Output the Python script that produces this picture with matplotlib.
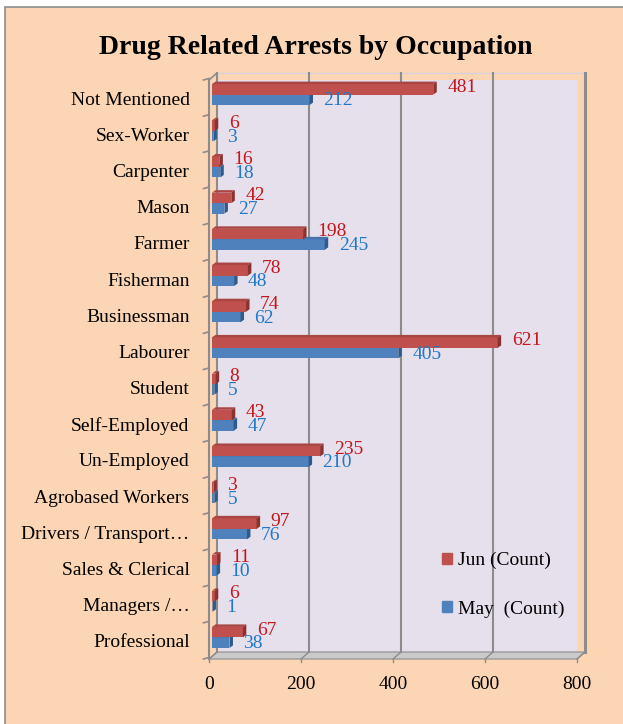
import matplotlib
matplotlib.use("Agg")
import matplotlib.pyplot as plt
import matplotlib.patches as mpatches
from matplotlib.patches import Polygon, Rectangle

plt.rcParams["font.family"] = ["Liberation Serif", "DejaVu Serif"]

# data, listed top to bottom as in the chart
categories = [
    "Not Mentioned", "Sex-Worker", "Carpenter", "Mason", "Farmer", "Fisherman",
    "Businessman", "Labourer", "Student", "Self-Employed", "Un-Employed",
    "Agrobased Workers", "Drivers / Transport\u2026", "Sales & Clerical",
    "Managers /\u2026", "Professional",
]
jun_counts = [481, 6, 16, 42, 198, 78, 74, 621, 8, 43, 235, 3, 97, 11, 6, 67]
may_counts = [212, 3, 18, 27, 245, 48, 62, 405, 5, 47, 210, 5, 76, 10, 1, 38]
x_ticks = [0, 200, 400, 600, 800]

# bottom-up order for plotting
cats = categories[::-1]
jun = jun_counts[::-1]
may = may_counts[::-1]
n = len(cats)

W, H = 623, 724
fig = plt.figure(figsize=(W / 100, H / 100), dpi=100)
fig.patch.set_facecolor("white")
fig.patches.append(Rectangle((5 / W, -0.02), 1.1, 1 - 7 / H + 0.02,
                             transform=fig.transFigure, facecolor="#FCD5B5",
                             edgecolor="#8C8C8C", lw=1.2, zorder=-10))

fig.text(316 / W, 1 - 48 / H, "Drug Related Arrests by Occupation",
         ha="center", va="center", fontsize=20, fontweight="bold")

# front plane of the 3d box
ax = fig.add_axes([209 / W, 65 / H, 368 / W, 579 / H])
ax.set_xlim(0, 800)
ax.set_ylim(-0.5, n - 0.5)
ax.patch.set_alpha(0)
for s in ax.spines.values():
    s.set_visible(False)

ux = 800 / 368      # data units per pixel
uy = n / 579
dx, dy = 8 * ux, 7 * uy          # wall depth
mx, my = 3 * ux, 3.5 * uy        # bars sit mid depth
ex, ey = 3.5 * ux, 2.5 * uy      # bar thickness
bh = 10.5 * uy

y0, y1 = -0.5, n - 0.5
grid_c = "#8C8C8C"

# back wall, floor, side wall
ax.add_patch(Polygon([(dx, y0 + dy), (800 + dx, y0 + dy), (800 + dx, y1 + dy), (dx, y1 + dy)],
                     closed=True, facecolor="#E6E0EC", edgecolor="none", zorder=0))
ax.add_patch(Polygon([(0, y0), (800, y0), (800 + dx, y0 + dy), (dx, y0 + dy)],
                     closed=True, facecolor="#CACACA", edgecolor="#9A9A9A", lw=1, zorder=1,
                     clip_on=False))
ax.plot([dx, 800 + dx], [y1 + dy, y1 + dy], color="#D8D2DE", lw=1, zorder=1, clip_on=False)
for xv in x_ticks:
    ax.plot([xv + dx, xv + dx], [y0 + dy, y1 + dy], color=grid_c,
            lw=2.2 if xv == 800 else 1.5, zorder=1, clip_on=False)
    ax.plot([xv, xv + dx], [y0, y0 + dy], color=grid_c, lw=1, zorder=1, clip_on=False)
    ax.plot([xv, xv], [y0, y0 - 3 * uy], color=grid_c, lw=1, zorder=1, clip_on=False)
ax.plot([0, 0], [y0, y1], color=grid_c, lw=1.5, zorder=1, clip_on=False)
ax.plot([0, dx], [y1, y1 + dy], color=grid_c, lw=1.2, zorder=1, clip_on=False)
for k in range(n + 1):
    ax.plot([-12, 0], [k - 0.5, k - 0.5 + 1.5 * uy], color=grid_c, lw=1.2, zorder=1,
            clip_on=False)


def bar3d(vals, lo, front, top, side):
    ax.barh([i + lo + bh / 2 for i in range(n)], vals, height=bh, left=mx,
            color=front, edgecolor="none", zorder=3)
    for i, v in enumerate(vals):
        b, t = i + lo, i + lo + bh
        ax.add_patch(Polygon([(mx, t), (mx + v, t), (mx + v + ex, t + ey), (mx + ex, t + ey)],
                             closed=True, facecolor=top, edgecolor="none", zorder=3))
        ax.add_patch(Polygon([(mx + v, b), (mx + v + ex, b + ey), (mx + v + ex, t + ey), (mx + v, t)],
                             closed=True, facecolor=side, edgecolor="none", zorder=3))


bar3d(may, my - bh, "#4F81BD", "#4573AA", "#2F5A8C")
bar3d(jun, my, "#C0504D", "#A94542", "#8A3230")

for i in range(n):
    ax.text(jun[i] + 37, i + 0.30, str(jun[i]), color="#C4161C", fontsize=14,
            ha="left", va="center", zorder=5)
    ax.text(may[i] + 37, i - 0.08, str(may[i]), color="#1F78C8", fontsize=14,
            ha="left", va="center", zorder=5)

ax.set_yticks(range(n))
ax.set_yticklabels(cats, fontsize=14)
ax.set_xticks(x_ticks)
ax.set_xticklabels([str(v) for v in x_ticks], fontsize=14)
ax.tick_params(axis="y", length=0, pad=14)
ax.tick_params(axis="x", length=0, pad=12)

handles = [mpatches.Patch(color="#C0504D", label="Jun (Count)"),
           mpatches.Patch(color="#4F81BD", label="May  (Count)")]
fig.legend(handles=handles, loc="upper left", bbox_to_anchor=(442 / W, 1 - 552 / H),
           frameon=False, fontsize=14, handlelength=0.5, handleheight=0.5,
           handletextpad=0.3, labelspacing=1.6, borderpad=0, borderaxespad=0)

fig.savefig("out.png", dpi=100)
